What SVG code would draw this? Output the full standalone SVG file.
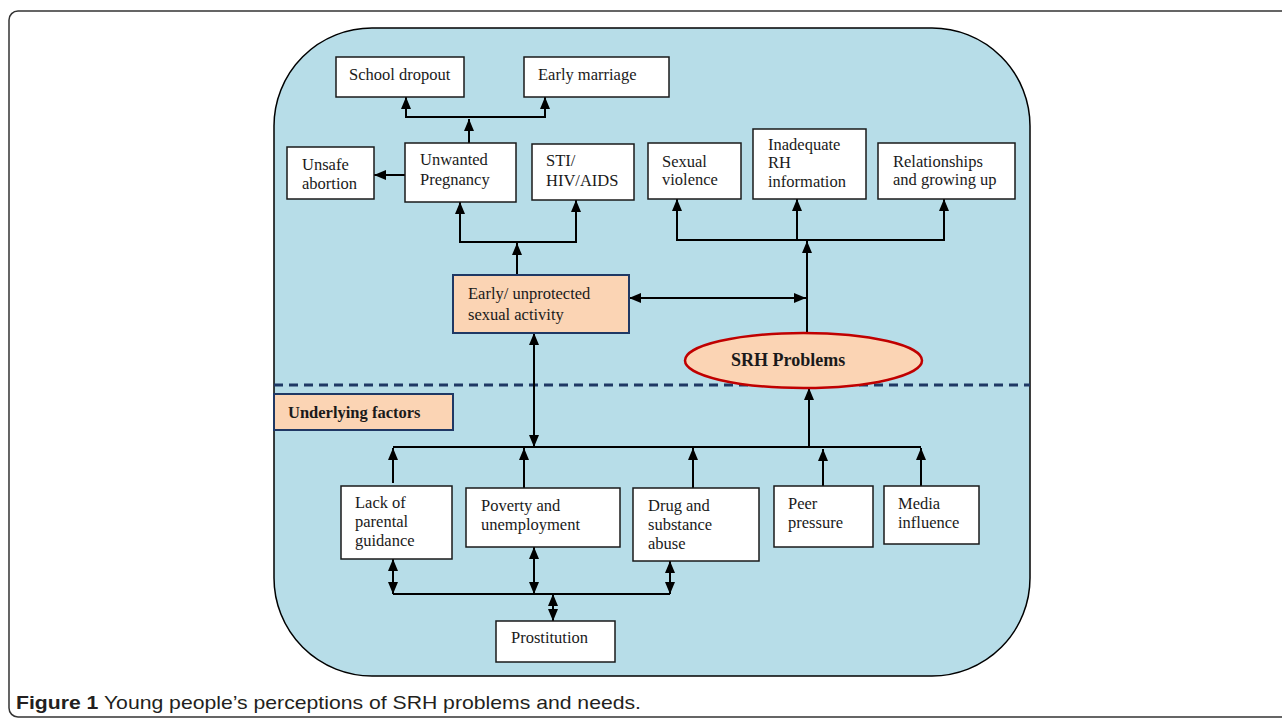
<svg xmlns="http://www.w3.org/2000/svg" width="1282" height="720" viewBox="0 0 1282 720">
<style>
.box{fill:#ffffff;stroke:#1a1a1a;stroke-width:1.5}
.pbox{fill:#fbd4b4;stroke:#1f3864;stroke-width:2}
.t{font-family:"Liberation Serif","Times New Roman",serif;font-size:16.5px;fill:#1a1a1a}
.tb{font-family:"Liberation Serif","Times New Roman",serif;font-weight:bold;fill:#1a1a1a}
.c{fill:none;stroke:#000;stroke-width:2}
.a{marker-end:url(#ah)}
.aa{marker-start:url(#ah);marker-end:url(#ah)}
</style>
<defs>
<marker id="ah" viewBox="0 0 10 9" refX="10" refY="4.5" markerWidth="12" markerHeight="10" markerUnits="userSpaceOnUse" orient="auto-start-reverse" preserveAspectRatio="none">
<path d="M0,0 L10,4.5 L0,9 z" fill="#000"/>
</marker>
</defs>
<rect x="9" y="11" width="1300" height="706" rx="9" ry="9" fill="#fff" stroke="#333" stroke-width="1.5"/>
<rect id="panel" x="274" y="28" width="756" height="648" rx="98" ry="98" fill="#b7dde8" stroke="#000" stroke-width="1.5"/>
<line x1="274" y1="385" x2="1030" y2="385" stroke="#1f3864" stroke-width="3" stroke-dasharray="9,6"/>

<g id="connectors">
<path class="c a" d="M469,143 V119"/>
<path class="c aa" d="M406,97 V117 H545 V97"/>
<path class="c a" d="M405,175 H374"/>
<path class="c a" d="M517,275 V243"/>
<path class="c aa" d="M460,202 V242 H576 V200"/>
<path class="c a" d="M807,333 V241"/>
<path class="c aa" d="M677,199 V240 H944 V199"/>
<path class="c a" d="M797,240 V199"/>
<path class="c aa" d="M629,298 H806"/>
<path class="c aa" d="M534,333 V447"/>
<path class="c" d="M393,447 H921"/>
<path class="c a" d="M393,483 V448"/>
<path class="c a" d="M524,488 V448"/>
<path class="c a" d="M693,488 V448"/>
<path class="c a" d="M823,486 V449"/>
<path class="c a" d="M921,486 V448"/>
<path class="c a" d="M809,447 V388" stroke-width="3"/>
<path class="c" d="M393,594 H670"/>
<path class="c aa" d="M393,559 V594"/>
<path class="c aa" d="M534,547 V594"/>
<path class="c aa" d="M670,561 V594"/>
<path class="c aa" d="M553,594 V621"/>
</g>

<g id="school-dropout"><rect class="box" x="336" y="57" width="128" height="40"/><text class="t" x="349" y="80">School dropout</text></g>
<g id="early-marriage"><rect class="box" x="524" y="57" width="145" height="40"/><text class="t" x="538" y="80">Early marriage</text></g>
<g id="unsafe-abortion"><rect class="box" x="287" y="147" width="87" height="52"/><text class="t" x="302" y="170">Unsafe</text><text class="t" x="302" y="189">abortion</text></g>
<g id="unwanted-pregnancy"><rect class="box" x="405" y="143" width="111" height="59"/><text class="t" x="420" y="165">Unwanted</text><text class="t" x="420" y="185">Pregnancy</text></g>
<g id="sti"><rect class="box" x="532" y="144" width="102" height="56"/><text class="t" x="546" y="166">STI/</text><text class="t" x="546" y="186">HIV/AIDS</text></g>
<g id="sexual-violence"><rect class="box" x="648" y="143" width="93" height="56"/><text class="t" x="662" y="167">Sexual</text><text class="t" x="662" y="185">violence</text></g>
<g id="inadequate-rh"><rect class="box" x="753" y="129" width="113" height="70"/><text class="t" x="768" y="150">Inadequate</text><text class="t" x="768" y="168">RH</text><text class="t" x="768" y="187">information</text></g>
<g id="relationships"><rect class="box" x="878" y="143" width="137" height="56"/><text class="t" x="893" y="167">Relationships</text><text class="t" x="893" y="185">and growing up</text></g>
<g id="early-sexual-activity"><rect class="pbox" x="453" y="275" width="176" height="58"/><text class="t" x="468" y="299">Early/ unprotected</text><text class="t" x="468" y="320">sexual activity</text></g>
<g id="srh-problems"><ellipse cx="803.5" cy="360.5" rx="118.5" ry="27.5" fill="#fbd4b4" stroke="#c00000" stroke-width="2.5"/><text class="tb" x="731" y="366" font-size="18">SRH Problems</text></g>
<g id="underlying-factors"><rect class="pbox" x="274" y="394" width="179" height="36"/><text class="tb" x="288" y="418" font-size="16.5">Underlying factors</text></g>
<g id="lack-parental"><rect class="box" x="341" y="486" width="111" height="73"/><text class="t" x="355" y="508">Lack of</text><text class="t" x="355" y="527">parental</text><text class="t" x="355" y="546">guidance</text></g>
<g id="poverty"><rect class="box" x="466" y="488" width="154" height="59"/><text class="t" x="481" y="511">Poverty and</text><text class="t" x="481" y="530">unemployment</text></g>
<g id="drug-abuse"><rect class="box" x="633" y="488" width="126" height="73"/><text class="t" x="648" y="511">Drug and</text><text class="t" x="648" y="530">substance</text><text class="t" x="648" y="549">abuse</text></g>
<g id="peer-pressure"><rect class="box" x="774" y="486" width="99" height="61"/><text class="t" x="788" y="509">Peer</text><text class="t" x="788" y="528">pressure</text></g>
<g id="media-influence"><rect class="box" x="884" y="486" width="95" height="58"/><text class="t" x="898" y="509">Media</text><text class="t" x="898" y="528">influence</text></g>
<g id="prostitution"><rect class="box" x="496" y="621" width="119" height="41"/><text class="t" x="511" y="643">Prostitution</text></g>

<text x="16" y="709" font-family="'Liberation Sans',Arial,sans-serif" font-size="18.5" fill="#231f20" textLength="625" lengthAdjust="spacingAndGlyphs"><tspan font-weight="bold">Figure 1</tspan> Young people’s perceptions of SRH problems and needs.</text>
</svg>
